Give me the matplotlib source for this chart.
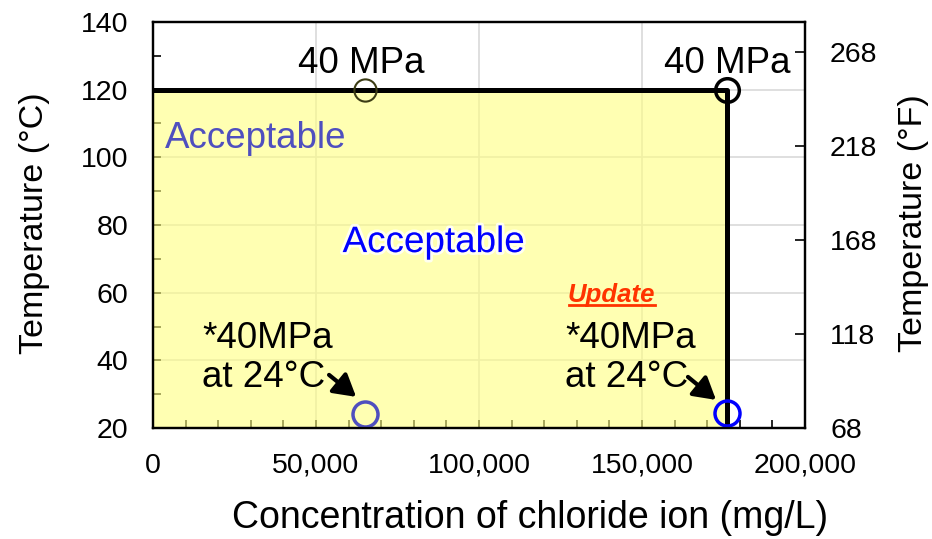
import matplotlib
matplotlib.use('Agg')
import matplotlib.pyplot as plt
import matplotlib.patheffects as pe
from matplotlib.lines import Line2D
from matplotlib.ticker import FuncFormatter
import numpy as np

plt.rcParams['font.family'] = ['Liberation Sans', 'DejaVu Sans']

# 数据
limit_x = [0, 176000, 176000]        # 许容范围边界 (mg/L)
limit_y = [120, 120, 20]             # 许容范围边界 (°C)
old_40mpa = [65000, 120]             # 旧 40 MPa 点
new_40mpa = [176000, 120]            # 新 40 MPa 点
old_24c = [65000, 24]                # 旧 40MPa at 24°C
new_24c = [176000, 24.5]             # 新 40MPa at 24°C
c_ticks = [20, 40, 60, 80, 100, 120, 140]
f_ticks = [68, 118, 168, 218, 268]

fig = plt.figure(figsize=(9.32, 5.39), dpi=100)
ax = fig.add_axes([153/932, 1-428/539, 652/932, 406/539])

ax.set_xlim(0, 200000)
ax.set_ylim(20, 140)
ax.set_xticks(np.arange(0, 200001, 50000))
ax.set_xticks(np.arange(0, 200001, 10000), minor=True)
ax.set_yticks(c_ticks)
ax.set_yticks(np.arange(20, 141, 10), minor=True)
ax.xaxis.set_major_formatter(FuncFormatter(lambda v, p: f'{int(v):,}'))
ax.tick_params(which='both', direction='in', labelsize=20.5, pad=18, width=1.2, length=6)
ax.grid(which='major', color='#D9D9D9', lw=1.2)
for s in ax.spines.values():
    s.set_linewidth(1.6)

# 许容范围 (黄色)
ax.fill_between(limit_x[:2], 20, 120, color='#FFFF80', alpha=0.6, lw=0, zorder=2)
ax.plot(limit_x, limit_y, color='black', lw=3.6, zorder=3, solid_capstyle='butt')

# 点
ax.plot(*old_40mpa, 'o', ms=16, mfc='none', mec='#3C3C14', mew=1.5, zorder=4)
ax.plot(*new_40mpa, 'o', ms=17, mfc='none', mec='black', mew=2.5, zorder=4)
ax.plot(*old_24c, 'o', ms=18, mfc='none', mec='#4F4FBF', mew=2.5, zorder=4)
ax.plot(*new_24c, 'o', ms=18, mfc='none', mec='#0000FF', mew=2.5, zorder=4)

# 文字
ax.text(64000, 125, '40 MPa', ha='center', va='baseline', fontsize=26.5, zorder=5)
ax.text(176000, 125, '40 MPa', ha='center', va='baseline', fontsize=26.5, zorder=5)
ax.text(3700, 102.8, 'Acceptable', ha='left', va='baseline', fontsize=26.5, color='#4F4FBF', zorder=5)
ax.text(86000, 72, 'Acceptable', ha='center', va='baseline', fontsize=26.5, color='#0000FF', zorder=5,
        path_effects=[pe.withStroke(linewidth=4, foreground='white', alpha=0.8)])
ax.text(15000, 32, '*40MPa\nat 24°C', ha='left', va='baseline', fontsize=26.5, linespacing=1.15, zorder=5)
ax.text(126400, 32, '*40MPa\nat 24°C', ha='left', va='baseline', fontsize=26.5, linespacing=1.15, zorder=5)
upd = ax.text(127000, 57.3, 'Update', ha='left', va='baseline', fontsize=18.5, color='#FF3300',
              fontweight='bold', fontstyle='italic', zorder=5)

# 箭头
arrow = dict(arrowstyle='-|>,head_length=0.6,head_width=0.35', color='black', lw=3,
             mutation_scale=22, shrinkA=0, shrinkB=0)
ax.annotate('', xy=(62300, 29.2), xytext=(54000, 35.7), arrowprops=arrow, zorder=5)
ax.annotate('', xy=(172700, 28.3), xytext=(164100, 35.1), arrowprops=arrow, zorder=5)

# 坐标轴标签
ax.set_xlabel('Concentration of chloride ion (mg/L)', fontsize=27, va='center')
ax.xaxis.set_label_coords(0.578, -0.222)
ax.set_ylabel('Temperature (°C)', fontsize=24.5, va='center')
ax.yaxis.set_label_coords(-0.1825, 0.505)

# 华氏温度 (右轴)
ax2 = ax.twinx()
ax2.set_ylim(20*9/5+32, 140*9/5+32)
ax2.set_yticks(f_ticks)
ax2.tick_params(direction='in', labelsize=20.5, pad=18, width=1.2, length=7)
ax2.set_ylabel('Temperature (°F)', fontsize=24.5, rotation=90, va='center')
ax2.yaxis.set_label_coords(1.167, 0.505)
for s in ax2.spines.values():
    s.set_linewidth(1.6)

# Update 下划线
fig.canvas.draw()
bb = upd.get_window_extent().transformed(fig.transFigure.inverted())
fig.add_artist(Line2D([bb.x0 + 0.002, bb.x1], [bb.y0 + 0.003, bb.y0 + 0.003], color='#FF3300', lw=2))

fig.savefig('out.png', dpi=100)
